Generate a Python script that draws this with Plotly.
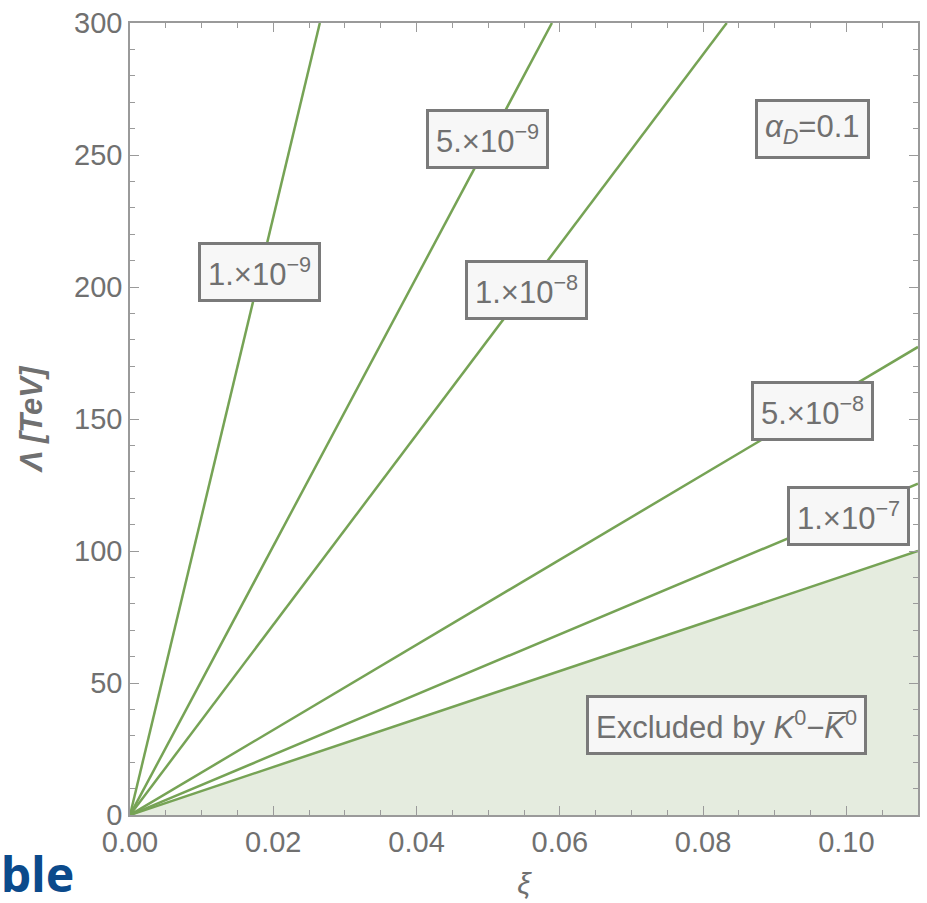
import plotly.graph_objects as go

# contour lines (straight lines from origin), end points
level_labels = ["1.×10<sup>−9</sup>", "5.×10<sup>−9</sup>", "1.×10<sup>−8</sup>",
                "5.×10<sup>−8</sup>", "1.×10<sup>−7</sup>"]
xi_end = [0.0265, 0.0589, 0.0833, 0.110, 0.110]
lam_end = [300.0, 300.0, 300.0, 177.3, 125.5]
# label anchor positions (xi, Lambda)
label_xi = [0.0181, 0.0499, 0.0553, 0.0953, 0.1003]
label_lam = [205.8, 255.9, 198.9, 153.0, 113.1]

# excluded region boundary
excl_xi = [0.0, 0.110]
excl_lam = [0.0, 100.0]

LINE = "#76a355"
FILL = "#e5ecdf"
GRAY = "#707070"
FRAME = "#9a9a9a"
FONT = "Liberation Sans, Arial, sans-serif"

fig = go.Figure()

fig.add_trace(go.Scatter(
    x=[excl_xi[0], excl_xi[1], excl_xi[1]], y=[excl_lam[0], excl_lam[1], 0.0],
    fill="toself", fillcolor=FILL, line=dict(width=0), mode="lines",
    hoverinfo="skip", showlegend=False))
fig.add_trace(go.Scatter(x=excl_xi, y=excl_lam, mode="lines",
                         line=dict(color=LINE, width=2.5), showlegend=False))

for xe, le in zip(xi_end, lam_end):
    fig.add_trace(go.Scatter(x=[0.0, xe], y=[0.0, le], mode="lines",
                             line=dict(color=LINE, width=2.5), showlegend=False))

box = dict(bgcolor="#f7f7f7", bordercolor="#7a7a7a", borderwidth=3, borderpad=7,
           font=dict(family=FONT, size=31, color=GRAY), showarrow=False)

for t, xl, yl in zip(level_labels, label_xi, label_lam):
    fig.add_annotation(x=xl, y=yl, text=t, **box)

fig.add_annotation(x=0.0953, y=259.7, text="<i>α</i><sub><i>D</i></sub>=0.1", **box)
fig.add_annotation(x=0.0833, y=34.2, text="Excluded by <i>K</i><sup>0</sup>−<i>K̅</i><sup>0</sup>", **box)

# stray slide text at bottom-left
fig.add_annotation(xref="paper", yref="paper", x=-0.166, y=-0.030, xanchor="left", yanchor="top",
                   text="<b>ble</b>", showarrow=False,
                   font=dict(family="Noto Sans, sans-serif", size=48, color="#0b4a8b"))

axis_common = dict(showgrid=False, zeroline=False, showline=True, linecolor=FRAME, linewidth=1.5,
                   mirror="ticks", ticks="inside", ticklen=9, tickcolor=FRAME, tickwidth=1.2,
                   tickfont=dict(family=FONT, size=29, color=GRAY))

fig.update_xaxes(range=[0, 0.11], dtick=0.02, tick0=0, tickformat=".2f",
                 minor=dict(dtick=0.005, ticks="inside", ticklen=5, tickcolor=FRAME),
                 title=dict(text="<i>ξ</i>", font=dict(family=FONT, size=30, color=GRAY), standoff=16),
                 **axis_common)
fig.update_yaxes(range=[0, 300], dtick=50, tick0=0,
                 minor=dict(dtick=10, ticks="inside", ticklen=5, tickcolor=FRAME),
                 title=dict(text="<b><i>Λ [TeV]</i></b>", font=dict(family=FONT, size=31, color=GRAY), standoff=22),
                 **axis_common)

fig.update_layout(width=927, height=903, margin=dict(l=130, r=7, t=22, b=88),
                  plot_bgcolor="white", paper_bgcolor="white", showlegend=False)

fig.write_html("out.html")
